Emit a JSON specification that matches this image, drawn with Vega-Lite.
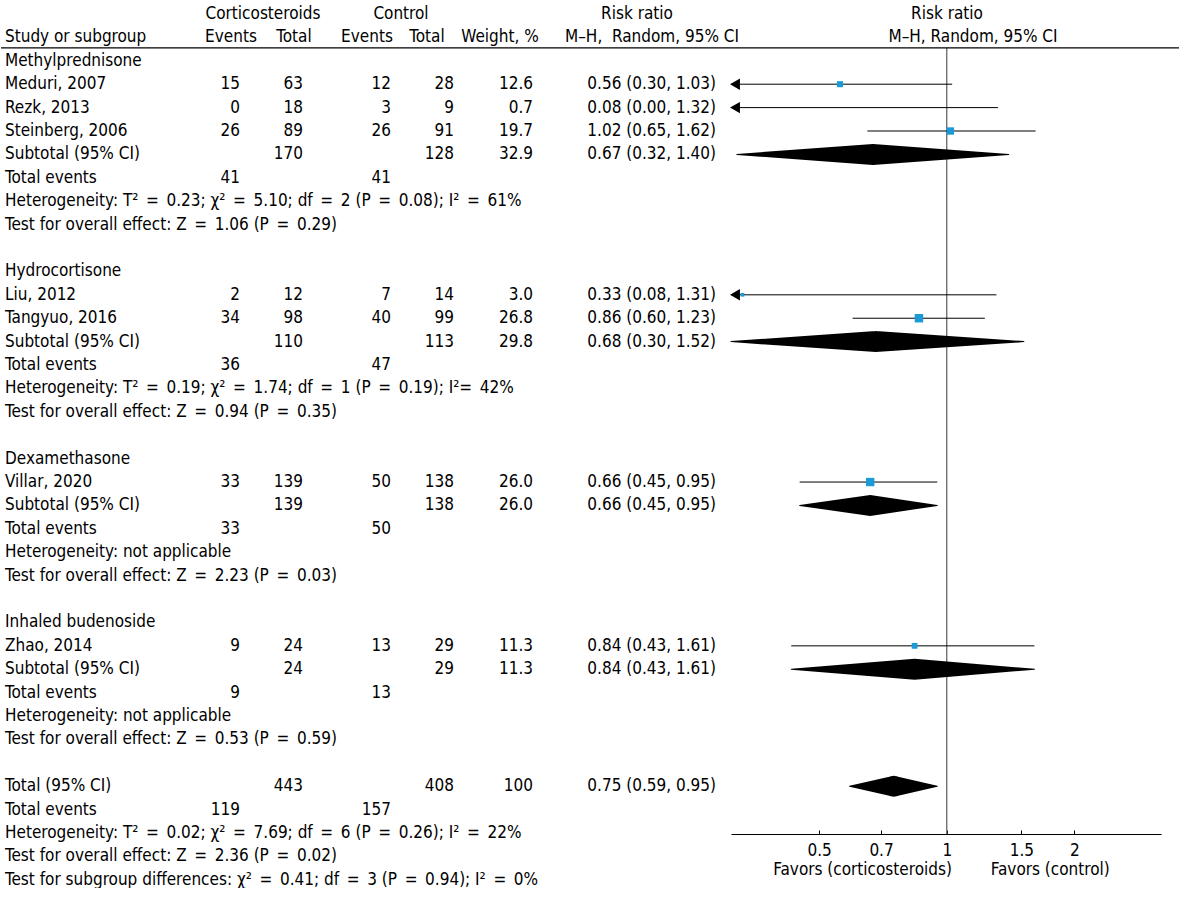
{
  "$schema": "https://vega.github.io/schema/vega-lite/v6.json",
  "width": 1179,
  "height": 834,
  "padding": 0,
  "background": "white",
  "config": {
    "view": {"stroke": null},
    "text": {"font": "DejaVu Sans Condensed, DejaVu Sans, sans-serif", "fontSize": 17, "color": "black"}
  },
  "datasets": {
    "table": [
      {"row": -1, "label": "Study or subgroup"},
      {"row": 0, "label": "Methylprednisone"},
      {"row": 1, "label": "Meduri, 2007", "e1": "15", "t1": "63", "e2": "12", "t2": "28", "w": "12.6", "ci": "0.56 (0.30, 1.03)"},
      {"row": 2, "label": "Rezk, 2013", "e1": "0", "t1": "18", "e2": "3", "t2": "9", "w": "0.7", "ci": "0.08 (0.00, 1.32)"},
      {"row": 3, "label": "Steinberg, 2006", "e1": "26", "t1": "89", "e2": "26", "t2": "91", "w": "19.7", "ci": "1.02 (0.65, 1.62)"},
      {"row": 4, "label": "Subtotal (95% CI)", "t1": "170", "t2": "128", "w": "32.9", "ci": "0.67 (0.32, 1.40)"},
      {"row": 5, "label": "Total events", "e1": "41", "e2": "41"},
      {"row": 6, "label": "Heterogeneity: Τ²\u2002=\u20020.23; χ²\u2002=\u20025.10; df\u2002=\u20022 (P\u2002=\u20020.08); I²\u2002=\u200261%"},
      {"row": 7, "label": "Test for overall effect: Z\u2002=\u20021.06 (P\u2002=\u20020.29)"},
      {"row": 9, "label": "Hydrocortisone"},
      {"row": 10, "label": "Liu, 2012", "e1": "2", "t1": "12", "e2": "7", "t2": "14", "w": "3.0", "ci": "0.33 (0.08, 1.31)"},
      {"row": 11, "label": "Tangyuo, 2016", "e1": "34", "t1": "98", "e2": "40", "t2": "99", "w": "26.8", "ci": "0.86 (0.60, 1.23)"},
      {"row": 12, "label": "Subtotal (95% CI)", "t1": "110", "t2": "113", "w": "29.8", "ci": "0.68 (0.30, 1.52)"},
      {"row": 13, "label": "Total events", "e1": "36", "e2": "47"},
      {"row": 14, "label": "Heterogeneity: Τ²\u2002=\u20020.19; χ²\u2002=\u20021.74; df\u2002=\u20021 (P\u2002=\u20020.19); I²=\u200242%"},
      {"row": 15, "label": "Test for overall effect: Z\u2002=\u20020.94 (P\u2002=\u20020.35)"},
      {"row": 17, "label": "Dexamethasone"},
      {"row": 18, "label": "Villar, 2020", "e1": "33", "t1": "139", "e2": "50", "t2": "138", "w": "26.0", "ci": "0.66 (0.45, 0.95)"},
      {"row": 19, "label": "Subtotal (95% CI)", "t1": "139", "t2": "138", "w": "26.0", "ci": "0.66 (0.45, 0.95)"},
      {"row": 20, "label": "Total events", "e1": "33", "e2": "50"},
      {"row": 21, "label": "Heterogeneity: not applicable"},
      {"row": 22, "label": "Test for overall effect: Z\u2002=\u20022.23 (P\u2002=\u20020.03)"},
      {"row": 24, "label": "Inhaled budenoside"},
      {"row": 25, "label": "Zhao, 2014", "e1": "9", "t1": "24", "e2": "13", "t2": "29", "w": "11.3", "ci": "0.84 (0.43, 1.61)"},
      {"row": 26, "label": "Subtotal (95% CI)", "t1": "24", "t2": "29", "w": "11.3", "ci": "0.84 (0.43, 1.61)"},
      {"row": 27, "label": "Total events", "e1": "9", "e2": "13"},
      {"row": 28, "label": "Heterogeneity: not applicable"},
      {"row": 29, "label": "Test for overall effect: Z\u2002=\u20020.53 (P\u2002=\u20020.59)"},
      {"row": 31, "label": "Total (95% CI)", "t1": "443", "t2": "408", "w": "100", "ci": "0.75 (0.59, 0.95)"},
      {"row": 32, "label": "Total events", "e1": "119", "e2": "157"},
      {"row": 33, "label": "Heterogeneity: Τ²\u2002=\u20020.02; χ²\u2002=\u20027.69; df\u2002=\u20026 (P\u2002=\u20020.26); I²\u2002=\u200222%"},
      {"row": 34, "label": "Test for overall effect: Z\u2002=\u20022.36 (P\u2002=\u20020.02)"},
      {"row": 35, "label": "Test for subgroup differences: χ²\u2002=\u20020.41; df\u2002=\u20023 (P\u2002=\u20020.94); I²\u2002=\u20020%"}
    ],
    "header": [
      {"row": -2, "cort": "Corticosteroids", "ctrl": "Control", "rr1": "Risk ratio", "rr2": "Risk ratio"},
      {"row": -1, "ev1": "Events", "tot1": "Total", "ev2": "Events", "tot2": "Total", "wt": "Weight, %", "mh1": "M–H,\u00a0 Random, 95% CI", "mh2": "M–H, Random, 95% CI"}
    ],
    "studies": [
      {"row": 1, "rr": 0.56, "lo": 0.30, "hi": 1.03, "w": 12.6},
      {"row": 2, "rr": 0.08, "lo": 0.004, "hi": 1.32, "w": 0.7},
      {"row": 3, "rr": 1.02, "lo": 0.65, "hi": 1.62, "w": 19.7},
      {"row": 10, "rr": 0.33, "lo": 0.08, "hi": 1.31, "w": 3.0},
      {"row": 11, "rr": 0.86, "lo": 0.60, "hi": 1.23, "w": 26.8},
      {"row": 18, "rr": 0.66, "lo": 0.45, "hi": 0.95, "w": 26.0},
      {"row": 25, "rr": 0.84, "lo": 0.43, "hi": 1.61, "w": 11.3}
    ],
    "pooled": [
      {"row": 4, "rr": 0.67, "lo": 0.32, "hi": 1.40},
      {"row": 12, "rr": 0.68, "lo": 0.30, "hi": 1.52},
      {"row": 19, "rr": 0.66, "lo": 0.45, "hi": 0.95},
      {"row": 26, "rr": 0.84, "lo": 0.43, "hi": 1.61},
      {"row": 31, "rr": 0.75, "lo": 0.59, "hi": 0.95}
    ]
  },
  "layer": [
    {
      "data": {"values": [{}]},
      "mark": {"type": "rule", "color": "#666666", "strokeWidth": 1.3},
      "encoding": {
        "x": {"datum": 1, "type": "quantitative", "scale": {"type": "log", "domain": [0.31, 3.2], "range": [730, 1160], "clamp": true, "nice": false}},
        "y": {"datum": -0.55, "type": "quantitative", "scale": {"domain": [-2.598, 33.04], "reverse": true, "nice": false, "zero": false}, "axis": null},
        "y2": {"datum": 33.04}
      }
    },
    {
      "data": {"values": [{}]},
      "mark": {"type": "rule", "color": "black", "strokeWidth": 1.2},
      "encoding": {
        "y": {"datum": -0.55, "type": "quantitative", "scale": {"domain": [-2.598, 33.04], "reverse": true, "nice": false, "zero": false}, "axis": null}
      }
    },
    {
      "data": {"name": "studies"},
      "mark": {"type": "rule", "color": "black", "strokeWidth": 1},
      "encoding": {
        "x": {"field": "lo", "type": "quantitative", "scale": {"type": "log", "domain": [0.31, 3.2], "range": [730, 1160], "clamp": true, "nice": false},
          "axis": {"orient": "bottom", "values": [0.5, 0.7, 1, 1.5, 2], "format": "~g", "grid": false,
            "domainColor": "black", "domainWidth": 1.2, "tickColor": "black", "tickSize": -4, "labelPadding": 12,
            "labelColor": "black", "labelFont": "DejaVu Sans Condensed, DejaVu Sans, sans-serif", "labelFontSize": 17,
            "labelFlush": false, "labelOverlap": false,
            "title": "Favors (corticosteroids)\u00a0\u00a0\u00a0\u00a0\u00a0\u00a0\u00a0\u00a0Favors (control)",
            "titleFont": "DejaVu Sans Condensed, DejaVu Sans, sans-serif", "titleFontSize": 17, "titleFontWeight": "normal",
            "titleColor": "black", "titlePadding": 3, "titleX": 940}},
        "x2": {"field": "hi"},
        "y": {"field": "row", "type": "quantitative", "scale": {"domain": [-2.598, 33.04], "reverse": true, "nice": false, "zero": false}, "axis": null}
      }
    },
    {
      "data": {"name": "studies"},
      "transform": [{"filter": "datum.lo < 0.31"}],
      "mark": {"type": "point", "shape": "triangle-left", "filled": true, "color": "black", "opacity": 1, "size": 130, "xOffset": 4},
      "encoding": {
        "x": {"field": "lo", "type": "quantitative"},
        "y": {"field": "row", "type": "quantitative"}
      }
    },
    {
      "data": {"name": "studies"},
      "transform": [{"filter": "datum.rr > 0.31"}],
      "mark": {"type": "square", "filled": true, "color": "#1a9ad6", "opacity": 1},
      "encoding": {
        "x": {"field": "rr", "type": "quantitative"},
        "y": {"field": "row", "type": "quantitative"},
        "size": {"field": "w", "type": "quantitative", "scale": {"domain": [0, 27], "range": [6, 72]}, "legend": null}
      }
    },
    {
      "data": {"name": "pooled"},
      "transform": [{"fold": ["lo", "rr", "hi"], "as": ["pt", "xv"]}],
      "mark": {"type": "trail", "color": "black", "opacity": 1},
      "encoding": {
        "x": {"field": "xv", "type": "quantitative"},
        "y": {"field": "row", "type": "quantitative"},
        "detail": {"field": "row", "type": "nominal"},
        "order": {"field": "xv", "type": "quantitative"},
        "size": {"condition": {"test": "datum.pt === 'rr'", "value": 21}, "value": 0}
      }
    },
    {"data": {"name": "table"}, "mark": {"type": "text", "align": "left"},
      "encoding": {"x": {"value": 4}, "y": {"field": "row", "type": "quantitative"}, "text": {"field": "label"}}},
    {"data": {"name": "table"}, "transform": [{"filter": "isValid(datum.e1)"}], "mark": {"type": "text", "align": "right"},
      "encoding": {"x": {"value": 239}, "y": {"field": "row", "type": "quantitative"}, "text": {"field": "e1"}}},
    {"data": {"name": "table"}, "transform": [{"filter": "isValid(datum.t1)"}], "mark": {"type": "text", "align": "right"},
      "encoding": {"x": {"value": 302}, "y": {"field": "row", "type": "quantitative"}, "text": {"field": "t1"}}},
    {"data": {"name": "table"}, "transform": [{"filter": "isValid(datum.e2)"}], "mark": {"type": "text", "align": "right"},
      "encoding": {"x": {"value": 390}, "y": {"field": "row", "type": "quantitative"}, "text": {"field": "e2"}}},
    {"data": {"name": "table"}, "transform": [{"filter": "isValid(datum.t2)"}], "mark": {"type": "text", "align": "right"},
      "encoding": {"x": {"value": 453}, "y": {"field": "row", "type": "quantitative"}, "text": {"field": "t2"}}},
    {"data": {"name": "table"}, "transform": [{"filter": "isValid(datum.w)"}], "mark": {"type": "text", "align": "right"},
      "encoding": {"x": {"value": 532}, "y": {"field": "row", "type": "quantitative"}, "text": {"field": "w"}}},
    {"data": {"name": "table"}, "transform": [{"filter": "isValid(datum.ci)"}], "mark": {"type": "text", "align": "right"},
      "encoding": {"x": {"value": 715}, "y": {"field": "row", "type": "quantitative"}, "text": {"field": "ci"}}},
    {"data": {"name": "header"}, "transform": [{"filter": "isValid(datum.cort)"}], "mark": {"type": "text", "align": "center"},
      "encoding": {"x": {"value": 262}, "y": {"field": "row", "type": "quantitative"}, "text": {"field": "cort"}}},
    {"data": {"name": "header"}, "transform": [{"filter": "isValid(datum.ctrl)"}], "mark": {"type": "text", "align": "center"},
      "encoding": {"x": {"value": 400}, "y": {"field": "row", "type": "quantitative"}, "text": {"field": "ctrl"}}},
    {"data": {"name": "header"}, "transform": [{"filter": "isValid(datum.rr1)"}], "mark": {"type": "text", "align": "center"},
      "encoding": {"x": {"value": 636}, "y": {"field": "row", "type": "quantitative"}, "text": {"field": "rr1"}}},
    {"data": {"name": "header"}, "transform": [{"filter": "isValid(datum.rr2)"}], "mark": {"type": "text", "align": "center"},
      "encoding": {"x": {"value": 946}, "y": {"field": "row", "type": "quantitative"}, "text": {"field": "rr2"}}},
    {"data": {"name": "header"}, "transform": [{"filter": "isValid(datum.ev1)"}], "mark": {"type": "text", "align": "center"},
      "encoding": {"x": {"value": 230}, "y": {"field": "row", "type": "quantitative"}, "text": {"field": "ev1"}}},
    {"data": {"name": "header"}, "transform": [{"filter": "isValid(datum.tot1)"}], "mark": {"type": "text", "align": "center"},
      "encoding": {"x": {"value": 293}, "y": {"field": "row", "type": "quantitative"}, "text": {"field": "tot1"}}},
    {"data": {"name": "header"}, "transform": [{"filter": "isValid(datum.ev2)"}], "mark": {"type": "text", "align": "center"},
      "encoding": {"x": {"value": 366}, "y": {"field": "row", "type": "quantitative"}, "text": {"field": "ev2"}}},
    {"data": {"name": "header"}, "transform": [{"filter": "isValid(datum.tot2)"}], "mark": {"type": "text", "align": "center"},
      "encoding": {"x": {"value": 426}, "y": {"field": "row", "type": "quantitative"}, "text": {"field": "tot2"}}},
    {"data": {"name": "header"}, "transform": [{"filter": "isValid(datum.wt)"}], "mark": {"type": "text", "align": "center"},
      "encoding": {"x": {"value": 499}, "y": {"field": "row", "type": "quantitative"}, "text": {"field": "wt"}}},
    {"data": {"name": "header"}, "transform": [{"filter": "isValid(datum.mh1)"}], "mark": {"type": "text", "align": "center"},
      "encoding": {"x": {"value": 651}, "y": {"field": "row", "type": "quantitative"}, "text": {"field": "mh1"}}},
    {"data": {"name": "header"}, "transform": [{"filter": "isValid(datum.mh2)"}], "mark": {"type": "text", "align": "center"},
      "encoding": {"x": {"value": 972}, "y": {"field": "row", "type": "quantitative"}, "text": {"field": "mh2"}}}
  ]
}
